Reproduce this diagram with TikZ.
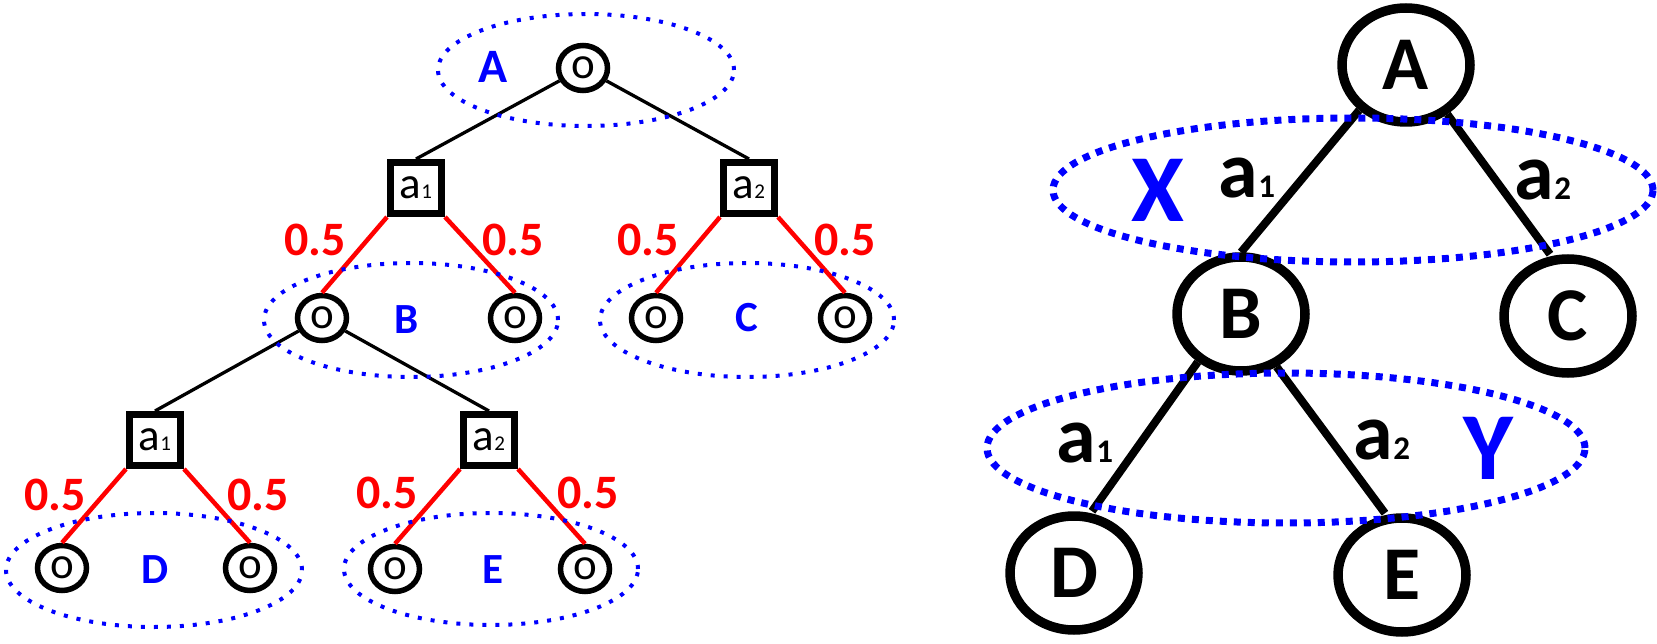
\documentclass[tikz,border=0pt]{standalone}
\usepackage{fontspec}
\setmainfont{Carlito}
\usetikzlibrary{shapes.geometric}
\begin{document}
\begin{tikzpicture}[x=1pt,y=-1pt,
 lo/.style={draw, ellipse, line width=5.5pt, minimum width=49pt, minimum height=45pt, inner sep=0pt, font=\fontsize{45}{45}\selectfont},
 bx/.style={draw, rectangle, line width=7pt, minimum size=51pt, inner sep=0pt, font=\fontsize{45}{45}\selectfont},
 grpL/.style={draw=blue, line width=4pt, dash pattern=on 4pt off 9pt},
 grpR/.style={draw=blue, line width=7pt, dash pattern=on 7pt off 7pt},
 lblA/.style={text=blue, font=\bfseries\fontsize{48}{48}\selectfont, inner sep=0pt},
 lbl/.style={text=blue, font=\bfseries\fontsize{43}{43}\selectfont, inner sep=0pt},
 pr/.style={text=red, font=\bfseries\fontsize{48}{48}\selectfont, inner sep=0pt},
 redline/.style={draw=red, line width=4.5pt},
 blk/.style={draw, line width=3.3pt},
 big/.style={draw, ellipse, line width=9.5pt, minimum width=128pt, minimum height=114pt, inner sep=0pt, font=\bfseries\fontsize{76}{76}\selectfont},
 thk/.style={draw, line width=8pt},
 xl/.style={text=blue, font=\bfseries\fontsize{96}{96}\selectfont, inner sep=0pt},
 al/.style={font=\bfseries\fontsize{80}{80}\selectfont, inner sep=0pt}
]
\useasboundingbox (0,0) rectangle (1657,644);
\newcommand{\sa}[1]{a{\fontsize{21}{21}\selectfont #1}}
\newcommand{\ba}[1]{a{\fontsize{33}{33}\selectfont #1}}

% ---------- left tree ----------
\node[lo] (r) at (583,68) {o};
\node[lblA] (lA) at (493,67) {A};
\node[bx] (p1) at (416,188) {\sa{1}};
\node[bx] (p2) at (749,188) {\sa{2}};
\node[lo] (b1) at (322,318) {o};
\node[lo] (b2) at (515,318) {o};
\node[lo] (c1) at (656,318) {o};
\node[lo] (c2) at (845,318) {o};
\node[lbl] (lB) at (407,320) {B};
\node[lbl] (lC) at (747,318) {C};
\node[bx] (q1) at (155,440) {\sa{1}};
\node[bx] (q2) at (489,440) {\sa{2}};
\node[lo] (d1) at (62,568) {o};
\node[lo] (d2) at (250,568) {o};
\node[lo] (e1) at (395,569) {o};
\node[lo] (e2) at (585,569) {o};
\node[lbl] (lD) at (155,570) {D};
\node[lbl] (lE) at (493,570) {E};

\draw[blk] (r) -- (p1.north);
\draw[blk] (r) -- (p2.north);
\draw[blk] (b1) -- (q1.north);
\draw[blk] (b1) -- (q2.north);
\draw[redline] (p1.south west) -- (b1.north);
\draw[redline] (p1.south east) -- (b2.north);
\draw[redline] (p2.south west) -- (c1.north);
\draw[redline] (p2.south east) -- (c2.north);
\draw[redline] (q1.south west) -- (d1.north);
\draw[redline] (q1.south east) -- (d2.north);
\draw[redline] (q2.south west) -- (e1.north);
\draw[redline] (q2.south east) -- (e2.north);

\node[pr] (w1) at (315,240) {0.5};
\node[pr] (w2) at (513,240) {0.5};
\node[pr] (w3) at (648,240) {0.5};
\node[pr] (w4) at (845,240) {0.5};
\node[pr] (w5) at (55,495) {0.5};
\node[pr] (w6) at (258,495) {0.5};
\node[pr] (w7) at (387,493) {0.5};
\node[pr] (w8) at (588,493) {0.5};

\draw[grpL] (586,70) ellipse [x radius=148pt, y radius=56pt];
\draw[grpL] (411,320) ellipse [x radius=147pt, y radius=57pt];
\draw[grpL] (747,320) ellipse [x radius=147pt, y radius=57pt];
\draw[grpL] (154,570) ellipse [x radius=148pt, y radius=57pt];
\draw[grpL] (491,569) ellipse [x radius=147pt, y radius=56pt];

% ---------- right tree ----------
\node[big] (A) at (1406,65) {A};
\node[big] (B) at (1241,314) {B};
\node[big] (C) at (1568,316) {C};
\node[big] (D) at (1074,573) {D};
\node[big] (E) at (1402,575) {E};
\draw[thk] (A.224) -- (B.north);
\draw[thk] (A.310) -- ([xshift=-18pt]C.north);
\draw[thk] (B.228) -- ([xshift=18pt]D.north);
\draw[thk] (B.304) -- ([xshift=-17pt]E.north);
\node[al] (t1) at (1247,178) {\ba{1}};
\node[al] (t2) at (1543,180) {\ba{2}};
\node[al] (t3) at (1085,443) {\ba{1}};
\node[al] (t4) at (1382,440) {\ba{2}};
\node[xl] (X) at (1158,190) {X};
\node[xl] (Y) at (1488,448) {Y};
\draw[grpR] (1353,190) ellipse [x radius=300pt, y radius=72pt];
\draw[grpR] (1286,448) ellipse [x radius=299pt, y radius=75pt];
\end{tikzpicture}
\end{document}
